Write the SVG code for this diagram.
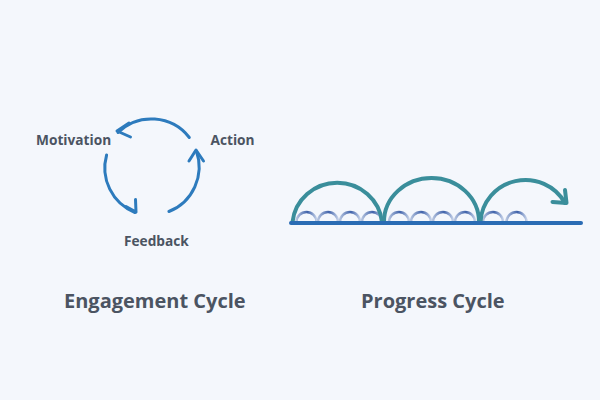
<svg xmlns="http://www.w3.org/2000/svg" width="600" height="400" viewBox="0 0 600 400">
  <defs>
    <linearGradient id="small" x1="0" y1="0" x2="1" y2="0">
      <stop offset="0" stop-color="#b3c2de"/>
      <stop offset="0.55" stop-color="#3f62aa"/>
      <stop offset="1" stop-color="#c3d0e8"/>
    </linearGradient>
    <style>
      .bg { fill: #f4f7fc; }
      .lbl { font-family: "Open Sans", "Liberation Sans", sans-serif; font-weight: 700; font-size: 13.7px; fill: #4b5462; }
      .title { font-family: "Open Sans", "Liberation Sans", sans-serif; font-weight: 700; font-size: 20px; fill: #4b5462; }
      .cyc { fill: none; stroke: #2d7bbd; stroke-width: 3; stroke-linecap: round; stroke-linejoin: round; }
      .big { fill: none; stroke: #3a8e9b; stroke-width: 4; stroke-linecap: round; stroke-linejoin: round; }
      .small { fill: none; stroke: url(#small); stroke-width: 2.5; }
      .base { fill: none; stroke: #2a6cb4; stroke-width: 4; stroke-linecap: round; }
    </style>
  </defs>
  <rect class="bg" x="0" y="0" width="600" height="400"/>

  <g id="motivation"><text class="lbl" x="36" y="145">Motivation</text></g>
  <g id="action"><text class="lbl" x="210.5" y="145">Action</text></g>
  <g id="feedback"><text class="lbl" x="124" y="246">Feedback</text></g>

  <g id="connectors">
    <path class="cyc" d="M189.3,137.5 A48,48 0 0 0 118,132.5"/>
    <path class="cyc" d="M129,123 L117,131 L130.5,137"/>
    <path class="cyc" d="M106.6,155 A48,48 0 0 0 135,212.5"/>
    <path class="cyc" d="M126,206.5 L136,212 L135.5,199.5"/>
    <path class="cyc" d="M168.9,211.5 A48,48 0 0 0 196.4,151"/>
    <path class="cyc" d="M189,161 L196,150 L203.5,161"/>
  </g>

  <g id="engagement-title"><text class="title" x="64" y="308">Engagement Cycle</text></g>

  <g id="progress-cycle">
    <g id="small-arcs">
      <path class="small" d="M296.5,222 A10,10 0 0 1 316.5,222"/>
      <path class="small" d="M318,222 A10,10 0 0 1 338,222"/>
      <path class="small" d="M340,222 A10,10 0 0 1 360,222"/>
      <path class="small" d="M362,222 A10,10 0 0 1 382,222"/>
      <path class="small" d="M389,222 A10,10 0 0 1 409,222"/>
      <path class="small" d="M411,222 A10,10 0 0 1 431,222"/>
      <path class="small" d="M433,222 A10,10 0 0 1 453,222"/>
      <path class="small" d="M455,222 A10,10 0 0 1 475,222"/>
      <path class="small" d="M483,222 A10,10 0 0 1 503,222"/>
      <path class="small" d="M506.5,222 A10,10 0 0 1 526.5,222"/>
    </g>
    <g id="big-arcs">
      <path class="big" d="M292.5,222 A45,44 0 0 1 382,222"/>
      <path class="big" d="M384,222 A47.5,44 0 0 1 479,222"/>
      <path class="big" d="M480.5,222 A45,44 0 0 1 565,203"/>
      <path class="big" d="M565,190 L566.5,203 L552.5,202"/>
    </g>
    <path class="base" d="M291,223 L581,223"/>
  </g>

  <g id="progress-title"><text class="title" x="361" y="308">Progress Cycle</text></g>
</svg>
